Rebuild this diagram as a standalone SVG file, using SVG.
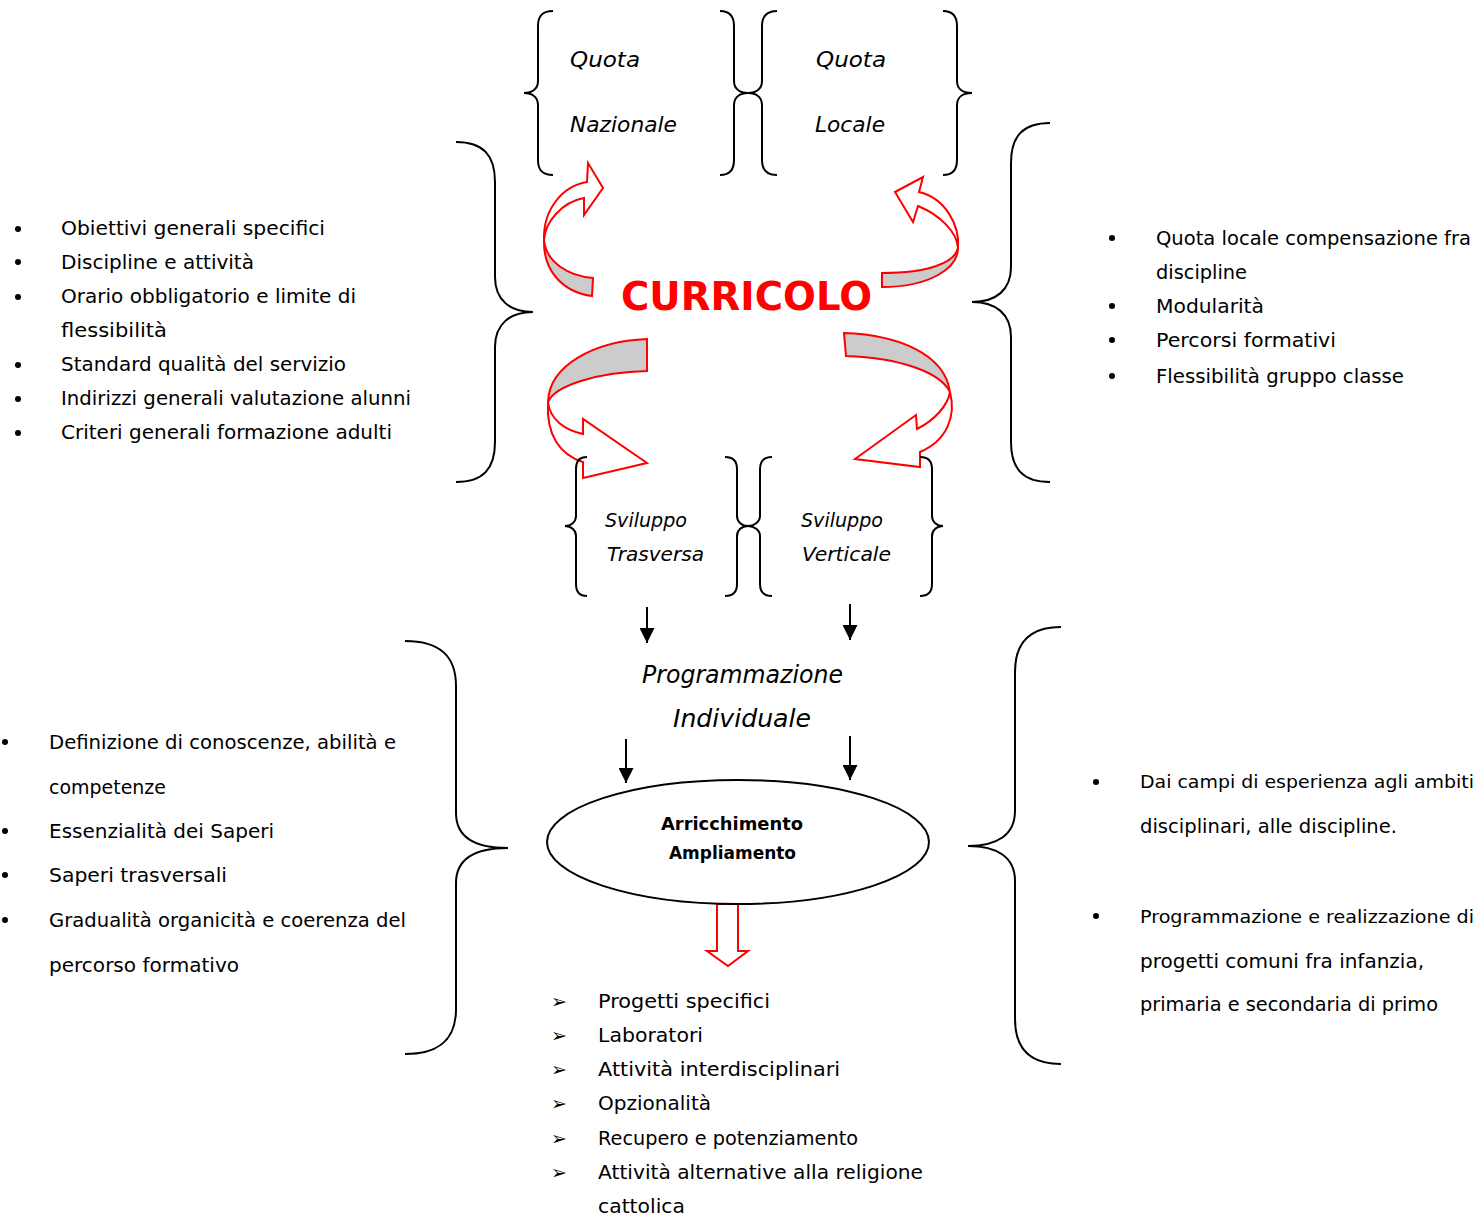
<svg xmlns="http://www.w3.org/2000/svg" width="1483" height="1216" viewBox="0 0 1483 1216">
<defs>
<style>
.t{font-family:"DejaVu Sans",sans-serif;font-size:20px;fill:#000}
.it{font-style:italic}
.q{font-size:22px}
.sv{font-size:19px}
.pi{font-size:24px}
.ar{font-size:18px;font-weight:bold}
.cur{font-size:39px;font-weight:bold;fill:#f00}
.bul{font-size:19px}
.nar{font-size:18.5px}
.br{fill:none;stroke:#000;stroke-width:2}
.red{stroke:#f00;stroke-width:2;stroke-linejoin:miter}
.wf{fill:#fff}
.gf{fill:#ccc}
.ln{stroke:#000;stroke-width:2;fill:none}
.dot{fill:#000}
</style>
<marker id="ah" markerWidth="15" markerHeight="15" refX="15" refY="7.5" orient="auto" markerUnits="userSpaceOnUse">
<path d="M0,0 L15,7.5 L0,15 Z" fill="#000"/>
</marker>
</defs>
<rect width="1483" height="1216" fill="#fff"/>

<g id="connectors">
  <!-- top-left curved arrow -->
  <path class="red gf" d="M593,278 C568,276 546,262 544,240 C543,270 562,292 592,296 Z"/>
  <path class="red wf" d="M544,240 C543,210 562,186 587,182 L588,163 L603,188 L584,215 L584,198 C562,202 545,222 544,240 Z"/>
  <!-- top-right curved arrow -->
  <path class="red gf" d="M882,273 C930,273 955,262 958,248 C958,268 930,287 882,287 Z"/>
  <path class="red wf" d="M958,248 C960,225 945,198 919,192 L923,177 L895,192 L913,222 L918,206 C940,215 957,232 958,248 Z"/>
  <!-- bottom-left curved arrow -->
  <path class="red gf" d="M647,339 C595,341 549,365 548,402 C555,385 600,372 647,371 Z"/>
  <path class="red wf" d="M548,402 C546,435 560,455 583,462 L583,478 L647,463 L583,419 L583,434 C565,430 550,420 548,402 Z"/>
  <!-- bottom-right curved arrow -->
  <path class="red gf" d="M844,333 C900,335 945,355 950,392 C940,372 900,358 846,356 Z"/>
  <path class="red wf" d="M950,392 C956,415 948,440 920,452 L920,467 L855,459 L916,415 L917,429 C935,420 948,405 950,392 Z"/>
  <!-- black arrows -->
  <line class="ln" x1="647" y1="607" x2="647" y2="643" marker-end="url(#ah)"/>
  <line class="ln" x1="850" y1="604" x2="850" y2="640" marker-end="url(#ah)"/>
  <line class="ln" x1="626" y1="739" x2="626" y2="783" marker-end="url(#ah)"/>
  <line class="ln" x1="850" y1="736" x2="850" y2="780" marker-end="url(#ah)"/>
  <!-- red block arrow -->
  <polygon class="red wf" points="717,904 738,904 738,951 748,951 728,966 707,951 717,951"/>
</g>

<g id="quota-nazionale">
  <path class="br" d="M553,11 C542,11 538,16 538,26 L538,81 C538,89 532,93 524,93 C532,93 538,97 538,105 L538,160 C538,170 542,175 553,175"/>
  <path class="br" d="M720,11 C730,11 734,16 734,26 L734,81 C734,89 740,93 748,93 C740,93 734,97 734,105 L734,160 C734,170 730,175 720,175"/>
  <text class="t it q" x="570" y="67" textLength="70" lengthAdjust="spacingAndGlyphs">Quota</text>
  <text class="t it q" x="570" y="132" textLength="107" lengthAdjust="spacingAndGlyphs">Nazionale</text>
</g>

<g id="quota-locale">
  <path class="br" d="M777,11 C767,11 762,16 762,26 L762,81 C762,89 756,93 748,93 C756,93 762,97 762,105 L762,160 C762,170 767,175 777,175"/>
  <path class="br" d="M943,11 C953,11 957,16 957,26 L957,81 C957,89 963,93 972,93 C963,93 957,97 957,105 L957,160 C957,170 953,175 943,175"/>
  <text class="t it q" x="816" y="67" textLength="70" lengthAdjust="spacingAndGlyphs">Quota</text>
  <text class="t it q" x="815" y="132" textLength="70" lengthAdjust="spacingAndGlyphs">Locale</text>
</g>

<g id="curricolo">
  <text class="t cur" x="621" y="310" textLength="251" lengthAdjust="spacingAndGlyphs">CURRICOLO</text>
</g>

<g id="sviluppo-trasversa">
  <path class="br" d="M587,457 C580,457 576,461 576,469 L576,516 C576,522 571,526 565,526 C571,526 576,530 576,536 L576,584 C576,592 580,596 587,596"/>
  <path class="br" d="M725,457 C733,457 737,461 737,469 L737,516 C737,522 742,526 748,526 C742,526 737,530 737,536 L737,584 C737,592 733,596 725,596"/>
  <text class="t it sv" x="605" y="527" textLength="82" lengthAdjust="spacingAndGlyphs">Sviluppo</text>
  <text class="t it sv" x="607" y="561" textLength="97" lengthAdjust="spacingAndGlyphs">Trasversa</text>
</g>

<g id="sviluppo-verticale">
  <path class="br" d="M772,457 C764,457 760,461 760,469 L760,516 C760,522 754,526 748,526 C754,526 760,530 760,536 L760,584 C760,592 764,596 772,596"/>
  <path class="br" d="M920,457 C928,457 932,461 932,469 L932,516 C932,522 937,526 943,526 C937,526 932,530 932,536 L932,584 C932,592 928,596 920,596"/>
  <text class="t it sv" x="801" y="527" textLength="82" lengthAdjust="spacingAndGlyphs">Sviluppo</text>
  <text class="t it sv" x="802" y="561" textLength="89" lengthAdjust="spacingAndGlyphs">Verticale</text>
</g>

<g id="programmazione-individuale">
  <text class="t it pi" x="642" y="683" textLength="201" lengthAdjust="spacingAndGlyphs">Programmazione</text>
  <text class="t it pi" x="673" y="727" textLength="138" lengthAdjust="spacingAndGlyphs">Individuale</text>
</g>

<g id="arricchimento-ampliamento">
  <ellipse cx="738" cy="842" rx="191" ry="62" fill="#fff" stroke="#000" stroke-width="2"/>
  <text class="t ar" x="661" y="830" textLength="142" lengthAdjust="spacingAndGlyphs">Arricchimento</text>
  <text class="t ar" x="669" y="859" textLength="127" lengthAdjust="spacingAndGlyphs">Ampliamento</text>
</g>

<g id="list-nazionale">
  <path class="br" d="M456,142 C483,142 495,155 495,182 L495,277 C495,300 510,312 533,312 C510,312 495,324 495,347 L495,442 C495,469 483,482 456,482"/>
  <circle class="dot" cx="18" cy="229" r="3"/>
  <circle class="dot" cx="18" cy="262" r="3"/>
  <circle class="dot" cx="18" cy="297" r="3"/>
  <circle class="dot" cx="18" cy="365" r="3"/>
  <circle class="dot" cx="18" cy="399" r="3"/>
  <circle class="dot" cx="18" cy="433" r="3"/>
  <text class="t" x="61" y="235" textLength="264" lengthAdjust="spacingAndGlyphs">Obiettivi generali specifici</text>
  <text class="t" x="61" y="269" textLength="193" lengthAdjust="spacingAndGlyphs">Discipline e attività</text>
  <text class="t" x="61" y="303" textLength="295" lengthAdjust="spacingAndGlyphs">Orario obbligatorio e limite di</text>
  <text class="t" x="61" y="337" textLength="106" lengthAdjust="spacingAndGlyphs">flessibilità</text>
  <text class="t" x="61" y="371" textLength="285" lengthAdjust="spacingAndGlyphs">Standard qualità del servizio</text>
  <text class="t" x="61" y="405" textLength="350" lengthAdjust="spacingAndGlyphs">Indirizzi generali valutazione alunni</text>
  <text class="t" x="61" y="439" textLength="331" lengthAdjust="spacingAndGlyphs">Criteri generali formazione adulti</text>
</g>

<g id="list-locale">
  <path class="br" d="M1050,123 C1023,123 1011,136 1011,163 L1011,267 C1011,290 996,302 972,302 C996,302 1011,314 1011,337 L1011,442 C1011,469 1023,482 1050,482"/>
  <circle class="dot" cx="1112" cy="238" r="3"/>
  <circle class="dot" cx="1112" cy="306" r="3"/>
  <circle class="dot" cx="1112" cy="340" r="3"/>
  <circle class="dot" cx="1112" cy="376" r="3"/>
  <text class="t" x="1156" y="245" textLength="315" lengthAdjust="spacingAndGlyphs">Quota locale compensazione fra</text>
  <text class="t" x="1156" y="279" textLength="91" lengthAdjust="spacingAndGlyphs">discipline</text>
  <text class="t" x="1156" y="313" textLength="108" lengthAdjust="spacingAndGlyphs">Modularità</text>
  <text class="t" x="1156" y="347" textLength="180" lengthAdjust="spacingAndGlyphs">Percorsi formativi</text>
  <text class="t" x="1156" y="383" textLength="248" lengthAdjust="spacingAndGlyphs">Flessibilità gruppo classe</text>
</g>

<g id="list-programmazione">
  <path class="br" d="M405,641 C440,641 456,656 456,686 L456,813 C456,837 475,848 508,848 C475,848 456,859 456,883 L456,1009 C456,1039 440,1054 405,1054"/>
  <circle class="dot" cx="5" cy="742" r="3"/>
  <circle class="dot" cx="5" cy="831" r="3"/>
  <circle class="dot" cx="5" cy="875" r="3"/>
  <circle class="dot" cx="5" cy="920" r="3"/>
  <text class="t" x="49" y="749" textLength="347" lengthAdjust="spacingAndGlyphs">Definizione di conoscenze, abilità e</text>
  <text class="t" x="49" y="794" textLength="117" lengthAdjust="spacingAndGlyphs">competenze</text>
  <text class="t" x="49" y="838" textLength="225" lengthAdjust="spacingAndGlyphs">Essenzialità dei Saperi</text>
  <text class="t" x="49" y="882" textLength="178" lengthAdjust="spacingAndGlyphs">Saperi trasversali</text>
  <text class="t" x="49" y="927" textLength="357" lengthAdjust="spacingAndGlyphs">Gradualità organicità e coerenza del</text>
  <text class="t" x="49" y="972" textLength="190" lengthAdjust="spacingAndGlyphs">percorso formativo</text>
</g>

<g id="list-continuita">
  <path class="br" d="M1061,627 C1030,627 1015,642 1015,672 L1015,811 C1015,835 997,846 968,846 C997,846 1015,857 1015,881 L1015,1019 C1015,1049 1030,1064 1061,1064"/>
  <circle class="dot" cx="1096" cy="782" r="3"/>
  <circle class="dot" cx="1096" cy="916" r="3"/>
  <text class="t nar" x="1140" y="788" textLength="334" lengthAdjust="spacingAndGlyphs">Dai campi di esperienza agli ambiti</text>
  <text class="t" x="1140" y="833" textLength="257" lengthAdjust="spacingAndGlyphs">disciplinari, alle discipline.</text>
  <text class="t nar" x="1140" y="923" textLength="334" lengthAdjust="spacingAndGlyphs">Programmazione e realizzazione di</text>
  <text class="t" x="1140" y="968" textLength="284" lengthAdjust="spacingAndGlyphs">progetti comuni fra infanzia,</text>
  <text class="t" x="1140" y="1011" textLength="298" lengthAdjust="spacingAndGlyphs">primaria e secondaria di primo</text>
</g>

<g id="list-attivita">
  <text class="t bul" x="551" y="1008">➢</text>
  <text class="t bul" x="551" y="1042">➢</text>
  <text class="t bul" x="551" y="1076">➢</text>
  <text class="t bul" x="551" y="1110">➢</text>
  <text class="t bul" x="551" y="1145">➢</text>
  <text class="t bul" x="551" y="1179">➢</text>
  <text class="t" x="598" y="1008" textLength="172" lengthAdjust="spacingAndGlyphs">Progetti specifici</text>
  <text class="t" x="598" y="1042" textLength="105" lengthAdjust="spacingAndGlyphs">Laboratori</text>
  <text class="t" x="598" y="1076" textLength="242" lengthAdjust="spacingAndGlyphs">Attività interdisciplinari</text>
  <text class="t" x="598" y="1110" textLength="113" lengthAdjust="spacingAndGlyphs">Opzionalità</text>
  <text class="t" x="598" y="1145" textLength="260" lengthAdjust="spacingAndGlyphs">Recupero e potenziamento</text>
  <text class="t" x="598" y="1179" textLength="325" lengthAdjust="spacingAndGlyphs">Attività alternative alla religione</text>
  <text class="t" x="598" y="1213" textLength="87" lengthAdjust="spacingAndGlyphs">cattolica</text>
</g>
</svg>
